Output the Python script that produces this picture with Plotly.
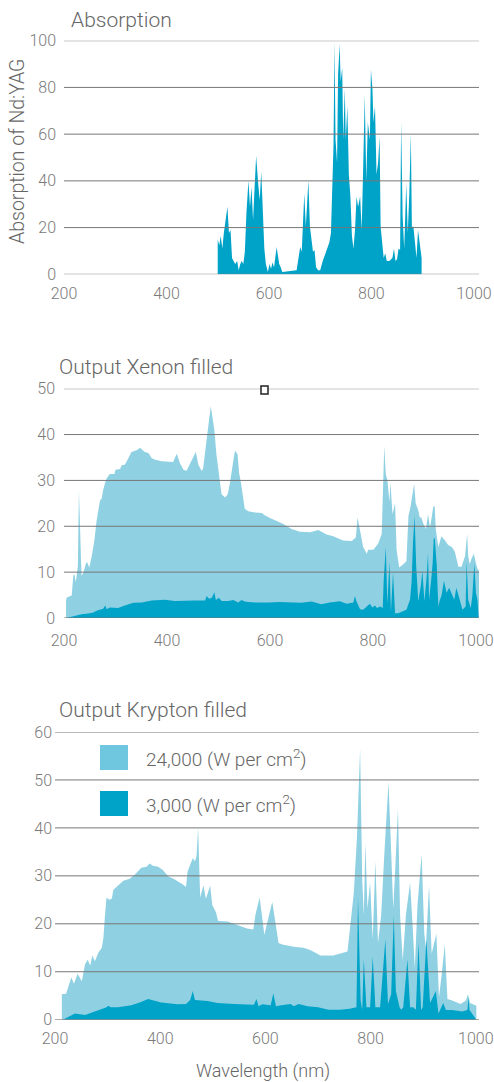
import plotly.graph_objects as go

W, H = 494, 1082

# ---------------- data ----------------
# Absorption of Nd:YAG (%), wavelength in nm
abs_nm = [500, 503, 506, 509, 512, 515, 519, 522, 525, 528, 534, 538, 541, 544, 547, 550, 553, 556, 560, 563,
          566, 569, 572, 575, 579, 582, 585, 588, 591, 594, 598, 601, 604, 607, 610, 615, 620, 623, 626, 654,
          661, 664, 669, 672, 677, 680, 683, 686, 689, 692, 696, 700, 705, 711, 718, 721, 724, 726, 728, 730,
          733, 735, 738, 740, 743, 745, 748, 750, 753, 756, 759, 762, 765, 768, 771, 774, 778, 781, 784, 787,
          790, 793, 797, 799, 802, 804, 807, 810, 813, 816, 818, 821, 824, 827, 830, 835, 841, 844, 847, 850,
          853, 856, 858, 861, 864, 868, 871, 874, 877, 879, 882, 885, 888, 891, 894, 898]
abs_val = [15, 12.4, 16.4, 11, 17.7, 23.2, 28.9, 17.7, 19, 7, 4.4, 5.7, 1.7, 4.4, 5.7, 4.4, 9.7, 26, 40.2, 28.9,
           37.4, 23.2, 36, 50.8, 38.9, 31.8, 44, 23.2, 11, 4.4, 1, 4.4, 2.4, 5, 3, 11.7, 4.4, 3, 1, 1.7,
           11.7, 9.7, 34.6, 20.4, 40.2, 20.4, 13.7, 9.7, 10.4, 3, 1.7, 1.7, 5.7, 9, 13.7, 17.7, 40.2, 55.1, 99.5, 57.6,
           47.7, 85.5, 98.6, 82.5, 88.5, 57.6, 79.5, 57.6, 72, 42.7, 33.3, 16.4, 11, 19, 33.3, 28.9, 33.3, 19, 46.4, 76.6,
           40.2, 65.1, 57.6, 87.7, 79.5, 65.1, 72, 42.7, 47.7, 58.9, 20.4, 15, 7, 9, 5.7, 5.7, 7, 11, 5.7, 6.4,
           11, 10.4, 65.1, 24.6, 11, 38.9, 17.7, 34.6, 60.2, 20.4, 20.4, 13.7, 7, 19, 13.7, 7]

# Xenon filled lamp output
xe_hi_nm = [204, 205, 212, 215, 218, 220, 223, 227, 229, 232, 234, 238, 242, 245, 249, 254, 259, 263, 267, 270,
            273, 276, 280, 283, 289, 298, 300, 309, 312, 318, 322, 328, 331, 341, 348, 352, 357, 364, 370, 377,
            390, 412, 419, 425, 432, 438, 445, 451, 456, 461, 467, 470, 477, 481, 485, 488, 492, 496, 500, 503,
            506, 513, 518, 522, 527, 532, 537, 540, 544, 547, 551, 558, 571, 584, 590, 600, 626, 642, 658, 678,
            694, 710, 723, 742, 759, 767, 770, 775, 781, 788, 791, 801, 810, 817, 820, 822, 825, 828, 832, 834,
            838, 843, 846, 851, 859, 865, 869, 873, 880, 883, 888, 891, 894, 898, 903, 907, 911, 917, 920, 922,
            927, 933, 940, 946, 953, 959, 966, 972, 979, 983, 985, 988, 991, 996, 1000, 1003, 1006]
xe_hi = [3.7, 4.4, 4.8, 4.9, 9.2, 9.6, 7.8, 11.4, 27.9, 17.6, 9.2, 10, 11.7, 12.2, 11, 13.5, 16.9, 21, 24.2, 25.7,
         26, 27.9, 29.5, 30.5, 31.4, 31.4, 32.3, 32.5, 33.3, 33.4, 34.2, 35.4, 36.2, 36.6, 37.1, 36.7, 36.2, 36, 34.9, 34.5,
         34.2, 34, 35.8, 33.8, 32.3, 32.1, 33.8, 34.9, 36.2, 33.4, 32.1, 32.5, 38.6, 42.7, 46.2, 44, 41, 35.7, 32.1, 28.5,
         27, 26.3, 27, 29.3, 33, 36.5, 35.7, 31.7, 29.3, 26.7, 23.8, 23.3, 23, 22.9, 22.4, 21.8, 20.5, 19.4, 18.8, 18.7,
         19.2, 18.2, 17.8, 16.9, 16.8, 17.6, 21.9, 19, 15.5, 14, 14.9, 14.9, 16.2, 18.3, 28.5, 37.5, 31.3, 30.1, 25.4, 29.5,
         22.6, 25, 14.9, 11, 11.7, 12.4, 22.3, 24.2, 29.3, 25, 23.5, 21.9, 21.9, 20.5, 19.4, 22.6, 19.6, 24.2, 24.4, 19.4,
         15.5, 17.8, 16.9, 15.9, 15.5, 14.5, 11.2, 11.2, 13.5, 18.3, 13.5, 11.7, 12.8, 14, 12, 10.7, 10.3]

xe_lo_nm = [204, 221, 234, 247, 257, 263, 270, 276, 280, 283, 289, 305, 318, 335, 351, 370, 396, 415, 454, 474,
            477, 482, 487, 492, 495, 501, 506, 519, 529, 532, 538, 545, 551, 558, 571, 597, 620, 660, 681, 700,
            716, 736, 749, 762, 765, 768, 775, 781, 788, 794, 799, 804, 808, 814, 819, 821, 825, 828, 832, 835,
            839, 843, 849, 856, 865, 872, 875, 878, 881, 884, 888, 893, 896, 900, 904, 907, 909, 913, 916, 918,
            920, 924, 927, 930, 933, 938, 943, 948, 953, 958, 962, 969, 974, 977, 980, 982, 985, 990, 993, 997,
            1000, 1003, 1005]
xe_lo = [0, 0.5, 0.8, 1.0, 1.2, 1.6, 1.8, 2.0, 2.7, 1.9, 2.3, 2.2, 2.7, 3.3, 3.4, 3.8, 4.0, 3.7, 3.8, 3.8,
         4.8, 4.2, 4.4, 5.6, 3.9, 4.4, 3.7, 3.7, 3.9, 3.7, 3.4, 3.9, 3.6, 3.5, 3.4, 3.4, 3.5, 3.3, 3.6, 3.0,
         3.4, 3.65, 3.1, 3.4, 4.8, 3.65, 1.9, 1.8, 2.5, 3.1, 2.3, 2.7, 2.2, 2.5, 2.2, 8.5, 15.5, 3.1, 12.2, 1.4,
         10, 1.05, 1.05, 1.4, 1.8, 4.0, 7.8, 16.9, 22.3, 11.4, 3.65, 7, 10.3, 3.65, 8.5, 14.1, 4.0, 8.1, 12, 17.3,
         17.5, 11.4, 2.5, 4.0, 4.8, 8.1, 5.5, 6.6, 5.1, 4.0, 6.6, 3.65, 1.8, 2.2, 2.5, 12.4, 4.0, 2.2, 4.8, 12,
         5.5, 4.0, 0.2]

# Krypton filled lamp output
kr_hi_nm = [213, 221, 231, 236, 243, 251, 257, 262, 267, 271, 276, 282, 289, 292, 295, 298, 303, 308, 311, 320,
            330, 342, 352, 364, 374, 380, 386, 396, 405, 415, 427, 443, 449, 452, 462, 466, 469, 472, 476, 482,
            487, 495, 499, 506, 510, 528, 547, 565, 577, 581, 589, 598, 613, 625, 632, 654, 672, 684, 698, 704,
            729, 742, 756, 768, 774, 780, 784, 787, 790, 794, 799, 804, 809, 814, 820, 826, 834, 839, 843, 847,
            852, 856, 861, 867, 875, 880, 884, 889, 897, 902, 905, 911, 916, 925, 930, 935, 941, 946, 955, 971,
            981, 985, 989, 999, 1001]
kr_hi = [5.3, 5.4, 8.8, 7.5, 9.6, 8, 11.5, 12.5, 11.3, 13.4, 12.2, 13.9, 15, 17.1, 21.8, 25.5, 25, 25.2, 27.1, 28,
         29, 29.4, 30.3, 31.7, 31.9, 32.6, 32.1, 31.9, 31.2, 29.9, 29.3, 28.2, 27.7, 30.9, 33.7, 33, 34.1, 40, 25.5, 28,
         25.2, 28, 23.9, 22.4, 20.6, 20.5, 19.8, 19, 18.8, 21.9, 25.5, 17.7, 24.6, 16, 15.7, 15.2, 15, 14.6, 13.8, 13.4,
         13.4, 13.8, 14.2, 26.5, 38, 56.5, 29.3, 21.8, 36.9, 23.2, 28.6, 16.7, 33.1, 16, 21.8, 34.5, 49.6, 35.1, 23.2, 32,
         44.1, 21.8, 12.3, 21.8, 28.6, 19.3, 10.7, 23.8, 34.5, 17.9, 15.1, 28, 13.8, 17.9, 4.7, 9.4, 15.7, 4.3, 4, 3.3,
         4, 5.3, 3.5, 3, 2.8]

kr_lo_nm = [215, 238, 257, 276, 298, 301, 306, 320, 345, 361, 377, 402, 433, 449, 457, 462, 466, 490, 509, 540,
            578, 583, 587, 594, 610, 615, 620, 630, 648, 654, 663, 680, 700, 720, 742, 760, 770, 773, 776, 781,
            784, 787, 792, 799, 804, 809, 818, 828, 833, 839, 844, 848, 855, 858, 862, 870, 875, 881, 886, 891,
            896, 899, 906, 913, 924, 929, 938, 943, 955, 974, 984, 986, 988, 999, 1001]
kr_lo = [0, 1.3, 1.0, 1.8, 2.6, 2.9, 2.6, 2.6, 3.0, 3.6, 4.3, 3.6, 3.2, 3.3, 4.1, 6.0, 4.1, 3.9, 3.5, 3.3,
         3.1, 4.3, 2.8, 3.2, 3.0, 5.5, 2.8, 3.0, 3.3, 2.8, 3.3, 2.8, 2.6, 2.1, 2.1, 2.3, 2.6, 2.6, 25.5, 4,
         2.1, 12.6, 2.6, 2.6, 13.2, 2.6, 2.6, 16.8, 3.3, 5.3, 21.8, 6, 2.6, 2.1, 2.6, 12.6, 2.6, 2.6, 2.1, 16.1,
         2, 2.6, 16.8, 3.5, 6, 1.3, 3.5, 2, 2, 1.7, 2, 4.7, 2, 0.5, 0]

x_ticks = [200, 400, 600, 800, 1000]
abs_ticks = [0, 20, 40, 60, 80, 100]
xe_ticks = [0, 10, 20, 30, 40, 50]
kr_ticks = [0, 10, 20, 30, 40, 50, 60]

series_names = ["24,000 (W per cm<sup>2</sup>)", "3,000 (W per cm<sup>2</sup>)"]
panel_titles = ["Absorption", "Output Xenon filled", "Output Krypton filled"]
y_title = "Absorption of Nd:YAG"
x_title = "Wavelength (nm)"

# ---------------- style ----------------
LIGHT = "#8fd1e3"
LIGHT_SW = "#6ec6df"
DARK = "#00a3c8"
GRID = "#777777"
TXT = "#666666"
TICK = "#7a7a7a"
FONT = "Roboto"


def fx(px):
    """pixel -> paper fraction"""
    return px / W


def fy(py):
    return 1 - py / H


fig = go.Figure()


def area(x, y, color, xa, ya, name=None):
    fig.add_trace(go.Scatter(x=x, y=y, mode="lines", fill="tozeroy", fillcolor=color,
                             line=dict(width=0, color=color), xaxis=xa, yaxis=ya,
                             name=name, showlegend=False, hoverinfo="skip"))


area(abs_nm, abs_val, DARK, "x", "y")
area(xe_hi_nm, xe_hi, LIGHT, "x2", "y2", series_names[0])
area(xe_lo_nm, xe_lo, DARK, "x2", "y2", series_names[1])
area(kr_hi_nm, kr_hi, LIGHT, "x3", "y3", series_names[0])
area(kr_lo_nm, kr_lo, DARK, "x3", "y3", series_names[1])

tickfont = dict(family=FONT, size=16, color=TICK, weight=300)


def xaxis(dom, rng, anchor, standoff):
    return dict(domain=dom, range=rng, anchor=anchor, tickvals=x_ticks, showgrid=False,
                zeroline=False, showline=False, ticks="", tickfont=tickfont,
                ticklabelstandoff=standoff, automargin=False, fixedrange=True)


def yaxis(dom, rng, anchor, ticks, standoff):
    return dict(domain=dom, range=rng, anchor=anchor, tickvals=ticks, showgrid=False,
                zeroline=False, showline=False, ticks="", tickfont=tickfont,
                ticklabelstandoff=standoff, automargin=False, fixedrange=True)


shapes = []
for xa, ya, ticks in [("x", "y", abs_ticks), ("x2", "y2", xe_ticks), ("x3", "y3", kr_ticks)]:
    for t in ticks:
        shapes.append(dict(type="line", xref=f"{xa} domain", x0=0, x1=1, yref=ya, y0=t, y1=t,
                           line=dict(color=GRID, width=1), layer="above"))

# legend swatches
shapes.append(dict(type="rect", xref="paper", yref="paper", x0=fx(100), x1=fx(128), y0=fy(770), y1=fy(745),
                   fillcolor=LIGHT_SW, line=dict(width=0), layer="above"))
shapes.append(dict(type="rect", xref="paper", yref="paper", x0=fx(100), x1=fx(128), y0=fy(816), y1=fy(791),
                   fillcolor=DARK, line=dict(width=0), layer="above"))
# small stray marker seen in the reference
shapes.append(dict(type="rect", xref="paper", yref="paper", x0=fx(261), x1=fx(268), y0=fy(394), y1=fy(386),
                   fillcolor="white", line=dict(width=1.5, color="#222222"), layer="above"))

tfont = dict(family=FONT, size=21, color=TXT, weight=300)
lfont = dict(family=FONT, size=19, color=TXT, weight=300)
annotations = [
    dict(text=panel_titles[0], x=fx(69), y=fy(20), xref="paper", yref="paper", xanchor="left",
         yanchor="middle", showarrow=False, font=tfont),
    dict(text=panel_titles[1], x=fx(57), y=fy(367), xref="paper", yref="paper", xanchor="left",
         yanchor="middle", showarrow=False, font=tfont),
    dict(text=panel_titles[2], x=fx(57), y=fy(710), xref="paper", yref="paper", xanchor="left",
         yanchor="middle", showarrow=False, font=tfont),
    dict(text=y_title, x=fx(17), y=fy(152), xref="paper", yref="paper", xanchor="center",
         yanchor="middle", textangle=-90, showarrow=False, font=dict(family=FONT, size=19.5, color=TXT, weight=300)),
    dict(text=x_title, x=fx(263), y=fy(1071), xref="paper", yref="paper", xanchor="center",
         yanchor="middle", showarrow=False, font=dict(family=FONT, size=18, color=TXT, weight=300)),
    dict(text=series_names[0], x=fx(144), y=fy(758), xref="paper", yref="paper", xanchor="left",
         yanchor="middle", showarrow=False, font=lfont),
    dict(text=series_names[1], x=fx(144), y=fy(804), xref="paper", yref="paper", xanchor="left",
         yanchor="middle", showarrow=False, font=lfont),
]

fig.update_layout(
    width=W, height=H,
    margin=dict(l=0, r=0, t=0, b=0, pad=0, autoexpand=False),
    paper_bgcolor="white", plot_bgcolor="white",
    showlegend=False,
    xaxis=xaxis([fx(64), fx(479)], [200, 1010], "y", 8),
    yaxis=yaxis([fy(274.3), fy(40.7)], [0, 100], "x", abs_ticks, 7),
    xaxis2=xaxis([fx(64), fx(479)], [200, 1006], "y2", 11),
    yaxis2=yaxis([fy(618), fy(388.7)], [0, 50], "x2", xe_ticks, 8),
    xaxis3=xaxis([fx(55), fx(479)], [200, 1006], "y3", 7),
    yaxis3=yaxis([fy(1019.7), fy(732)], [0, 60], "x3", kr_ticks, 2),
    shapes=shapes,
    annotations=annotations,
)

# remove the default page margin so the figure fills the window exactly
fig.write_html("out.html", config={"displayModeBar": False},
               post_script="document.body.style.margin='0';document.body.style.overflow='hidden';")
